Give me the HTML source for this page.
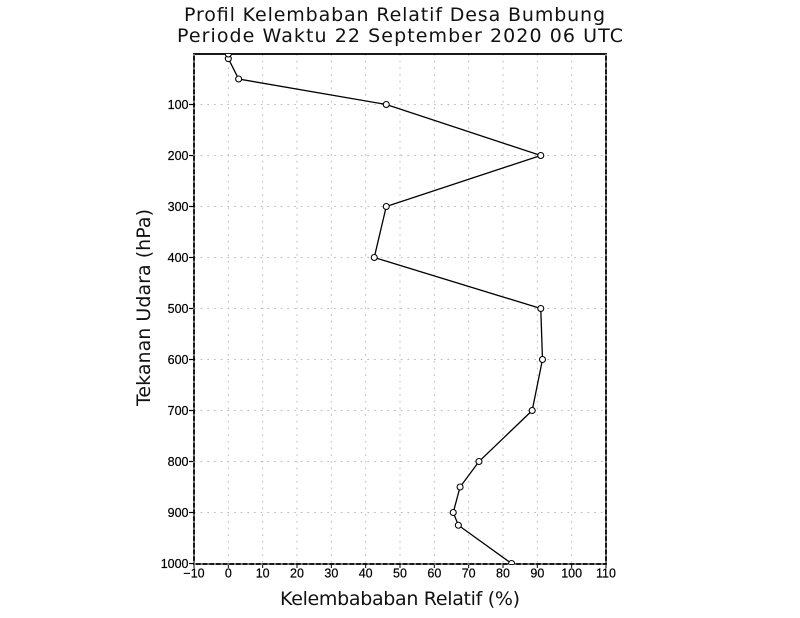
<!DOCTYPE html>
<html>
<head>
<meta charset="utf-8">
<style>
html,body{margin:0;padding:0;background:#fff;width:800px;height:618px;overflow:hidden}
svg{display:block}
text{font-family:"Liberation Sans",sans-serif;fill:#000}
.big{font-family:"DejaVu Sans",sans-serif;fill:#111}
.num{stroke:#000;stroke-width:0.2}
</style>
</head>
<body>
<svg id="chart" width="800" height="618" viewBox="0 0 800 618" xmlns="http://www.w3.org/2000/svg">
<text class="big" x="184" y="21" font-size="19" textLength="421" lengthAdjust="spacing">Profil Kelembaban Relatif Desa Bumbung</text>
<text class="big" x="177" y="42" font-size="19" textLength="446" lengthAdjust="spacing">Periode Waktu 22 September 2020 06 UTC</text>
<text class="big" x="280" y="605" font-size="19" textLength="240" lengthAdjust="spacing">Kelembababan Relatif (%)</text>
<text class="big" transform="translate(150,406) rotate(-90)" font-size="19" textLength="197" lengthAdjust="spacing">Tekanan Udara (hPa)</text>
<defs><clipPath id="plot-clip"><rect x="194" y="54" width="412" height="510"/></clipPath></defs>
<g id="grid"></g>
<g id="axes"></g>
<g id="series" clip-path="url(#plot-clip)"></g>
</svg>
<script>
const xTicks = [-10, 0, 10, 20, 30, 40, 50, 60, 70, 80, 90, 100, 110];
const yTicks = [100, 200, 300, 400, 500, 600, 700, 800, 900, 1000];
const pressure = [1000, 925, 900, 850, 800, 700, 600, 500, 400, 300, 200, 100, 50, 10, 1];
const humidity = [82.5, 67, 65.5, 67.5, 73, 88.5, 91.5, 91, 42.5, 46, 91, 46, 3, 0, 0];

const NS = 'http://www.w3.org/2000/svg';
function xScale(v) { return 194 + (v + 10) * (412 / 120); }
function yScale(p) { return 53.5 + p * 0.51; }
function make(tag, attrs, parent) {
  const el = document.createElementNS(NS, tag);
  for (const k in attrs) el.setAttribute(k, attrs[k]);
  parent.appendChild(el);
  return el;
}
const grid = document.getElementById('grid');
const axes = document.getElementById('axes');
const series = document.getElementById('series');

// frame
const frame = make('rect', {x: 194, y: 54, width: 412, height: 510, fill: 'none', stroke: '#000', 'stroke-width': 1.8}, axes);



// grid
xTicks.forEach(function (t) {
  const x = xScale(t);
  const gl = make('line', {x1: x, x2: x, y1: 54, y2: 564, stroke: '#bcbcbc', 'stroke-width': 1, 'stroke-dasharray': '1.7 4.97'}, grid);
  
  
  const tick = make('line', {x1: x, x2: x, y1: 564, y2: 568, stroke: '#000', 'stroke-width': 1}, axes);
  
  
  const lab = make('text', {x: x, y: 577.5, 'font-size': 12.5, 'text-anchor': 'middle', 'class': 'num'}, axes);
  
  
  lab.textContent = String(t).replace('-', '\u2212');
});
yTicks.forEach(function (t) {
  const y = yScale(t);
  const gl = make('line', {x1: 194, x2: 606, y1: y, y2: y, stroke: '#bcbcbc', 'stroke-width': 1, 'stroke-dasharray': '1.7 4.97'}, grid);
  
  
  const tick = make('line', {x1: 189, x2: 194, y1: y, y2: y, stroke: '#000', 'stroke-width': 1.2}, axes);
  
  
  const lab = make('text', {x: 188.5, y: y + 4.5, 'font-size': 12.5, 'text-anchor': 'end', 'class': 'num'}, axes);
  
  
  lab.textContent = String(t);
});

// dashes over the axes, as in the reference
[[194, 54, 194, 564], [606, 54, 606, 564], [194, 564, 606, 564]].forEach(function (s) {
  const d = make('line', {x1: s[0], y1: s[1], x2: s[2], y2: s[3], stroke: '#aaa', 'stroke-width': 1.2, 'stroke-dasharray': '2 4.67'}, axes);
  
  
});

// series
const pts = pressure.map(function (p, i) { return xScale(humidity[i]) + ',' + yScale(p); }).join(' ');
const line = make('polyline', {points: pts, fill: 'none', stroke: '#000', 'stroke-width': 1.3}, series);


pressure.forEach(function (p, i) {
  const c = make('circle', {cx: xScale(humidity[i]), cy: yScale(p), r: 3, fill: '#fff', stroke: '#000', 'stroke-width': 1.1}, series);
  
  
});
</script>
</body>
</html>
